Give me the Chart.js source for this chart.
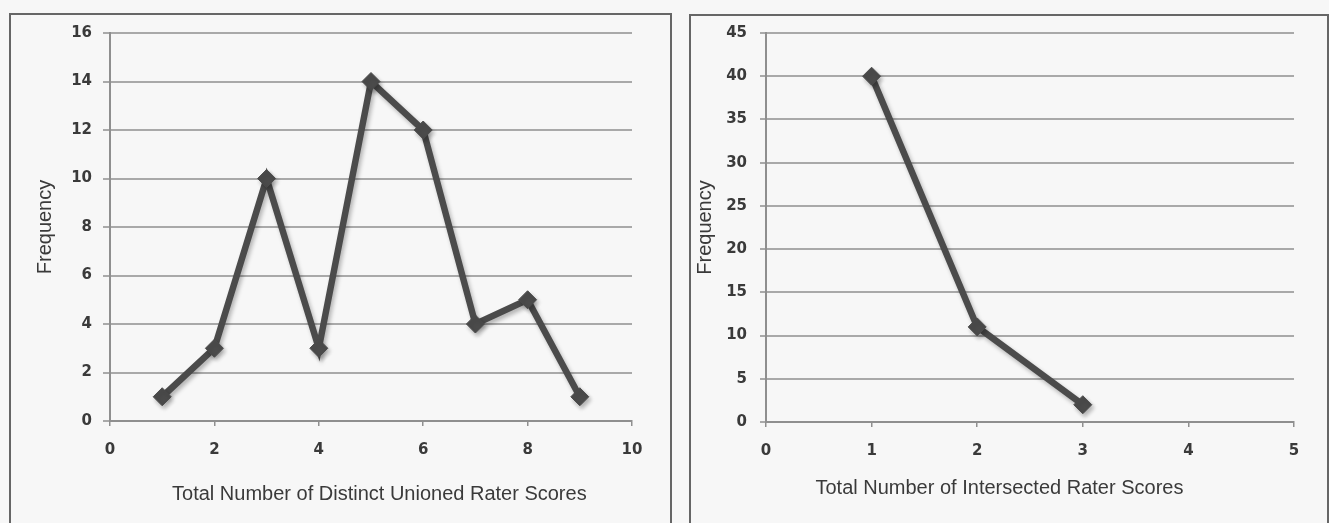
<!DOCTYPE html>
<html>
<head>
<meta charset="utf-8"/>
<title>Rater score frequencies</title>
<script src="https://cdn.jsdelivr.net/npm/chart.js@4.4.1/dist/chart.umd.min.js"></script>
<style>
  html, body { margin: 0; padding: 0; background: #f7f7f7; }
  body { width: 1329px; height: 523px; position: relative; overflow: hidden; }
  .panel { position: absolute; border: 2px solid #666; border-bottom: none; background: #f7f7f7; }
  #leftPanel { left: 9px; top: 13px; width: 659px; height: 510px; }
  #rightPanel { left: 689px; top: 14px; width: 636px; height: 509px; }
  .panel canvas { position: absolute; left: 0; top: 0; }
</style>
</head>
<body>
<div class="panel" id="leftPanel"><canvas id="unionChart" width="659" height="508"></canvas></div>
<div class="panel" id="rightPanel"><canvas id="interChart" width="636" height="508"></canvas></div>

<script>
// left chart: distinct unioned rater scores
const unionScores = [1, 2, 3, 4, 5, 6, 7, 8, 9];
const unionFreq = [1, 3, 10, 3, 14, 12, 4, 5, 1];
const unionXTitle = "Total Number of Distinct Unioned Rater Scores";

// right chart: intersected rater scores
const interScores = [1, 2, 3];
const interFreq = [40, 11, 2];
const interXTitle = "Total Number of Intersected Rater Scores";

const yTitle = "Frequency";

const lineColor = "#4b4b4b";
const gridColor = "#a9a9a9";
const axisColor = "#8f8f8f";
const textColor = "#3a3a3a";

// soft drop shadow under the series, like the excel original
const shadowPlugin = {
  id: "lineShadow",
  beforeDatasetsDraw(chart) {
    const ctx = chart.ctx;
    ctx.save();
    ctx.shadowColor = "rgba(0,0,0,0.28)";
    ctx.shadowBlur = 4;
    ctx.shadowOffsetX = 2;
    ctx.shadowOffsetY = 3;
  },
  afterDatasetsDraw(chart) {
    chart.ctx.restore();
  }
};

function makeChart(id, xs, ys, opt) {
  const pts = xs.map((x, i) => ({ x: x, y: ys[i] }));
  return new Chart(document.getElementById(id), {
    type: "scatter",
    data: {
      datasets: [{
        data: pts,
        showLine: true,
        borderColor: lineColor,
        borderWidth: 6.5,
        pointStyle: "rectRot",
        pointRadius: 9,
        pointBackgroundColor: lineColor,
        pointBorderColor: lineColor,
        pointBorderWidth: 1
      }]
    },
    plugins: [shadowPlugin],
    options: {
      responsive: false,
      animation: false,
      layout: { padding: { top: opt.padTop, right: opt.padRight, left: 0, bottom: 0 } },
      plugins: { legend: { display: false }, tooltip: { enabled: false } },
      scales: {
        x: {
          type: "linear",
          min: 0, max: opt.xMax,
          afterFit: s => { s.height = 102; },
          ticks: { stepSize: opt.xStep, padding: 15, color: textColor, font: { family: "DejaVu Sans", size: 15, weight: "bold" } },
          grid: { drawOnChartArea: false, tickLength: 5, color: axisColor, lineWidth: 1.5 },
          border: { color: axisColor, width: 2 },
          title: {
            display: true, text: opt.xTitle, color: textColor,
            font: { family: "Liberation Sans", size: 20 },
            padding: { top: 0, bottom: opt.xTitlePad }
          }
        },
        y: {
          min: 0, max: opt.yMax,
          afterFit: s => { s.width = opt.yWidth; },
          // small lineHeight keeps the top label from pushing the plot area down
          ticks: { stepSize: opt.yStep, padding: opt.yTickPad, color: textColor, font: { family: "DejaVu Sans", size: 15, weight: "bold", lineHeight: 0.5 } },
          grid: { color: gridColor, lineWidth: 2, tickLength: opt.yTickLen },
          border: { color: axisColor, width: 2 },
          title: {
            display: true, text: yTitle, color: textColor,
            font: { family: "Liberation Sans", size: 20 },
            padding: { top: opt.yTitlePad, bottom: 0 }
          }
        }
      }
    }
  });
}

// spaces nudge the centred axis title the way excel placed it
makeChart("unionChart", unionScores, unionFreq, {
  xMax: 10, xStep: 2, yMax: 16, yStep: 2,
  padTop: 18, padRight: 38, yWidth: 99, yTickPad: 11, yTickLen: 7,
  xTitle: "   " + unionXTitle, xTitlePad: 17, yTitlePad: 22
});

makeChart("interChart", interScores, interFreq, {
  xMax: 5, xStep: 1, yMax: 45, yStep: 5,
  padTop: 17, padRight: 33, yWidth: 75, yTickPad: 13, yTickLen: 6,
  xTitle: interXTitle + "           ", xTitlePad: 24, yTitlePad: 2
});
</script>
</body>
</html>
